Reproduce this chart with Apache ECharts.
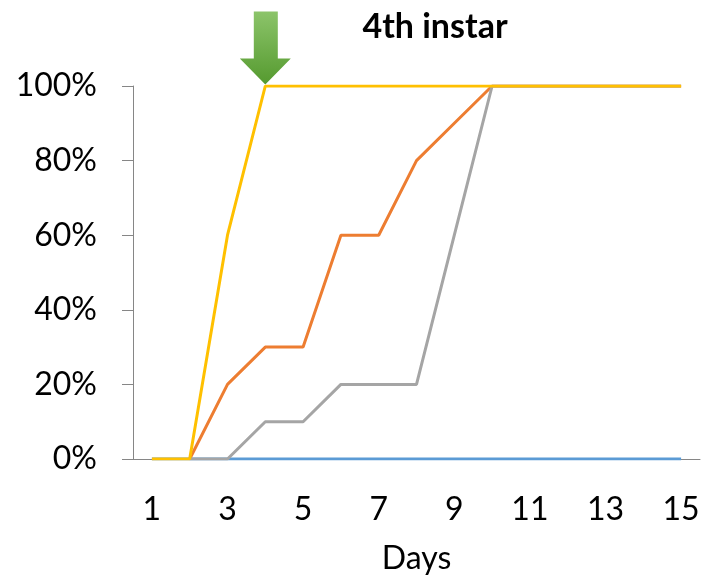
<!DOCTYPE html>
<html>
<head>
<meta charset="utf-8">
<style>
  html, body { margin: 0; padding: 0; background: #fff; }
  #chart { width: 714px; height: 584px; }
</style>
<script src="https://cdn.jsdelivr.net/npm/echarts@6/dist/echarts.min.js"></script>
</head>
<body>
<div id="chart"></div>
<script>
// Days of observation
const days = ['1','2','3','4','5','6','7','8','9','10','11','12','13','14','15'];

// Cumulative share (%) reaching the 4th instar, per group
const seriesBlue   = [0, 0, 0, 0, 0, 0, 0, 0, 0, 0, 0, 0, 0, 0, 0];
const seriesOrange = [null, 0, 20, 30, 30, 60, 60, 80, 90, 100, 100, 100, 100, 100, 100];
const seriesGray   = [null, 0, 0, 10, 10, 20, 20, 20, 60, 100, 100, 100, 100, 100, 100];
const seriesYellow = [0, 0, 60, 100, 100, 100, 100, 100, 100, 100, 100, 100, 100, 100, 100];

// Marker: the day the first group is complete
const arrowDay = '4';
const arrowValue = 100;

const chart = echarts.init(document.getElementById('chart'));
const font = 'Lato, "Open Sans", sans-serif';

function lineSeries(name, data, color, z) {
  return {
    name, type: 'line', data, z,
    symbol: 'none',
    lineStyle: { color, width: 3 },
    itemStyle: { color },
    animation: false
  };
}

const arrowPath = 'path://M14,0 L38,0 L38,47 L51,47 L25.5,73 L0,47 L14,47 Z';

const yellow = lineSeries('yellow', seriesYellow, '#ffc000', 5);
yellow.markPoint = {
  silent: true,
  symbol: arrowPath,
  symbolSize: [51, 73],
  symbolKeepAspect: false,
  symbolOffset: [0, -38],
  label: { show: false },
  itemStyle: {
    color: new echarts.graphic.LinearGradient(0, 0, 0, 1, [
      { offset: 0, color: '#8cc46a' },
      { offset: 1, color: '#559a2f' }
    ])
  },
  data: [{ coord: [arrowDay, arrowValue] }]
};

chart.setOption({
  animation: false,
  title: {
    text: '4th instar',
    left: 430, top: 5,
    textAlign: 'center',
    textStyle: { fontFamily: font, fontSize: 34, fontWeight: 'bold', color: '#000' }
  },
  grid: { left: 133, right: 14, top: 86, bottom: 125 },
  xAxis: {
    type: 'category',
    data: days,
    boundaryGap: true,
    name: 'Days',
    nameLocation: 'middle',
    nameGap: 84,
    nameTextStyle: { fontFamily: font, fontSize: 32, color: '#000' },
    axisLine: { lineStyle: { color: '#868686', width: 1 } },
    axisTick: { show: false },
    axisLabel: { interval: 1, margin: 35, fontFamily: font, fontSize: 32, color: '#000' }
  },
  yAxis: {
    type: 'value',
    min: 0, max: 100, interval: 20,
    axisLine: { show: true, lineStyle: { color: '#868686', width: 1 } },
    axisTick: { show: true, length: 11, lineStyle: { color: '#868686' } },
    splitLine: { show: false },
    axisLabel: { margin: 36, fontFamily: font, fontSize: 32, color: '#000', formatter: '{value}%' }
  },
  series: [
    lineSeries('blue', seriesBlue, '#5b9bd5', 2),
    lineSeries('orange', seriesOrange, '#ed7d31', 3),
    lineSeries('gray', seriesGray, '#a5a5a5', 4),
    yellow
  ]
});
</script>
</body>
</html>
